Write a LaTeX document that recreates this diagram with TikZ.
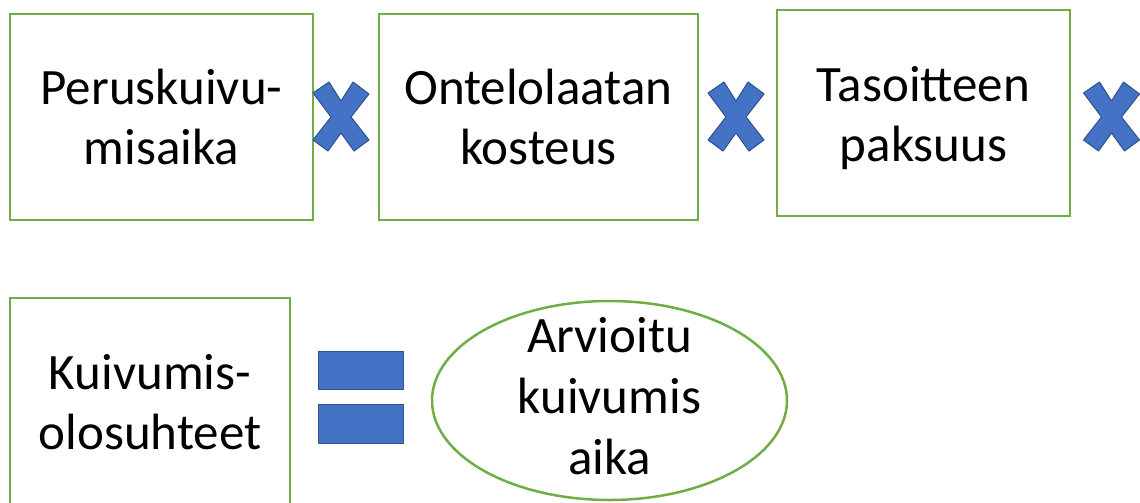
\documentclass[tikz,border=0pt]{standalone}
\usepackage{fontspec}
\setmainfont{Carlito}
\usetikzlibrary{shapes.geometric}
\definecolor{boxgreen}{HTML}{70AD47}
\definecolor{markblue}{HTML}{4472C4}
\definecolor{markedge}{HTML}{2F528F}
\tikzset{
  termbox/.style={draw=boxgreen, line width=2.5pt, align=center, inner sep=0pt,
    font=\fontsize{51}{60}\selectfont},
  labeltext/.style={align=center, inner sep=0pt, font=\fontsize{51}{60}\selectfont},
  resultell/.style={draw=boxgreen, line width=2.5pt, ellipse, inner sep=0pt,
    minimum width=355pt, minimum height=199pt},
  markfill/.style={fill=markblue, draw=markedge, line width=1pt, line join=round},
}
\newcommand{\timesmark}[2]{%
  \draw[markfill] (#1-28,#2-24) -- (#1-12,#2-35) -- (#1,#2-16) -- (#1+12,#2-35)
    -- (#1+28,#2-23) -- (#1+10,#2) -- (#1+28,#2+23) -- (#1+13,#2+34) -- (#1,#2+16)
    -- (#1-13,#2+34) -- (#1-28,#2+23) -- (#1-10,#2) -- cycle;}
\begin{document}
\begin{tikzpicture}[x=1pt,y=-1pt]
\useasboundingbox (0,0) rectangle (1140,503);
\clip (0,0) rectangle (1140,503);
\node[termbox, minimum width=303pt, minimum height=206pt] (b1) at (161.5,117) {Peruskuivu-\\misaika};
\node[termbox, minimum width=319pt, minimum height=206pt] (b2) at (538.5,117) {Ontelolaatan\\kosteus};
\node[termbox, minimum width=293pt, minimum height=206pt] (b3) at (923.5,113) {};
\node[labeltext, yshift=-5pt] (t3) at (b3.center) {Tasoitteen\\paksuus};
\node[termbox, minimum width=280pt, minimum height=208pt] (b4) at (150,402) {Kuivumis-\\olosuhteet};
\node[resultell] (e) at (609.5,400.5) {};
\node[labeltext, font=\fontsize{51}{61}\selectfont, yshift=4pt] (te) at (e.center) {Arvioitu\\kuivumis\\aika};
\timesmark{341}{117}
\timesmark{736}{117}
\timesmark{1111.5}{117}
\draw[markfill] (318,351) rectangle (403,389);
\draw[markfill] (318,404) rectangle (403,443);
\end{tikzpicture}
\end{document}
